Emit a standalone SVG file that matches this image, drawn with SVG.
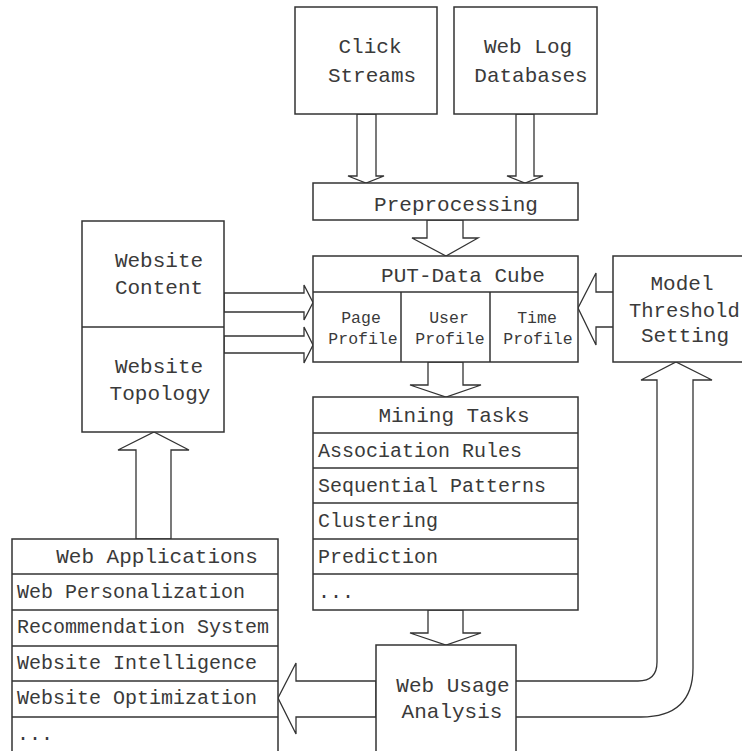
<svg xmlns="http://www.w3.org/2000/svg" width="742" height="751" viewBox="0 0 742 751">
  <style>
    .box { fill: #fff; stroke: #333; stroke-width: 1.5; }
    .ln { fill: none; stroke: #333; stroke-width: 1.5; }
    .arr { fill: #fff; stroke: #333; stroke-width: 1.3; stroke-linejoin: miter; }
    text { font-family: "Liberation Mono", "Courier New", monospace; fill: #3a3a3a; }
    .t { font-size: 21px; text-anchor: middle; }
    .li { font-size: 20px; }
    .s { font-size: 16.5px; text-anchor: middle; }
  </style>
  <rect width="742" height="751" fill="#fff"/>

  <!-- connectors (block arrows) -->
  <g id="connectors">
    <polygon class="arr" points="357,114 376,114 376,176 384,176 366,183 348,176 357,176"/>
    <polygon class="arr" points="516,114 534,114 534,176 543,176 525,183 507,176 516,176"/>
    <polygon class="arr" points="427,220 463,220 463,238 478,238 446,256 412,238 427,238"/>
    <polygon class="arr" points="428,362 463,362 463,385 481,385 446,397 410,385 428,385"/>
    <polygon class="arr" points="428,610 463,610 463,633 481,633 446,645 410,633 428,633"/>
    <polygon class="arr" points="614,292 596,292 596,273 578,308 596,345 596,327 614,327"/>
    <polygon class="arr" points="224,293 304,293 304,285 313,302.5 304,320 304,312 224,312"/>
    <polygon class="arr" points="224,336 304,336 304,327 313,345 304,363 304,353 224,353"/>
    <polygon class="arr" points="136,539 136,450 118,450 154,432 189,450 171,450 171,539"/>
    <polygon class="arr" points="376,681 296,681 296,663 278,698 296,734 296,717 376,717"/>
    <path class="arr" d="M516,681 L638,681 Q657,681 657,662 L657,380 L641,380 L676,362 L712,380 L693,380 L693,668 Q693,717 641,717 L516,717"/>
  </g>

  <g id="click-streams">
    <rect class="box" x="295" y="7" width="142" height="107"/>
    <text class="t" x="370" y="53">Click</text>
    <text class="t" x="372" y="82">Streams</text>
  </g>

  <g id="web-log-databases">
    <rect class="box" x="454" y="7" width="143" height="107"/>
    <text class="t" x="528" y="53">Web Log</text>
    <text class="t" x="531" y="82">Databases</text>
  </g>

  <g id="preprocessing">
    <rect class="box" x="313" y="183" width="265" height="37"/>
    <text class="t" x="456" y="211">Preprocessing</text>
  </g>

  <g id="put-data-cube">
    <rect class="box" x="313" y="256" width="265" height="106"/>
    <line class="ln" x1="313" y1="292" x2="578" y2="292"/>
    <line class="ln" x1="401" y1="292" x2="401" y2="362"/>
    <line class="ln" x1="490" y1="292" x2="490" y2="362"/>
    <text class="t" x="463" y="282">PUT-Data Cube</text>
    <text class="s" x="361" y="323">Page</text>
    <text class="s" x="363" y="344">Profile</text>
    <text class="s" x="449" y="323">User</text>
    <text class="s" x="450" y="344">Profile</text>
    <text class="s" x="537" y="323">Time</text>
    <text class="s" x="538" y="344">Profile</text>
  </g>

  <g id="model-threshold-setting">
    <rect class="box" x="613" y="256" width="150" height="106"/>
    <text class="t" x="682" y="290">Model</text>
    <text font-size="20.5" x="629" y="317">Threshold</text>
    <text class="t" x="685" y="342">Setting</text>
  </g>

  <g id="website">
    <rect class="box" x="82" y="221" width="142" height="211"/>
    <line class="ln" x1="82" y1="327" x2="224" y2="327"/>
    <text class="t" x="159" y="267">Website</text>
    <text class="t" x="159" y="294">Content</text>
    <text class="t" x="159" y="373">Website</text>
    <text class="t" x="160" y="400">Topology</text>
  </g>

  <g id="mining-tasks">
    <rect class="box" x="313" y="397" width="265" height="213"/>
    <line class="ln" x1="313" y1="433" x2="578" y2="433"/>
    <line class="ln" x1="313" y1="468" x2="578" y2="468"/>
    <line class="ln" x1="313" y1="503" x2="578" y2="503"/>
    <line class="ln" x1="313" y1="539" x2="578" y2="539"/>
    <line class="ln" x1="313" y1="574" x2="578" y2="574"/>
    <text class="t" x="454" y="422">Mining Tasks</text>
    <text class="li" x="318" y="457">Association Rules</text>
    <text class="li" x="318" y="492">Sequential Patterns</text>
    <text class="li" x="318" y="527">Clustering</text>
    <text class="li" x="318" y="563">Prediction</text>
    <text class="li" x="318" y="598">...</text>
  </g>

  <g id="web-applications">
    <rect class="box" x="12" y="539" width="266" height="230"/>
    <line class="ln" x1="12" y1="574" x2="278" y2="574"/>
    <line class="ln" x1="12" y1="610" x2="278" y2="610"/>
    <line class="ln" x1="12" y1="646" x2="278" y2="646"/>
    <line class="ln" x1="12" y1="681" x2="278" y2="681"/>
    <line class="ln" x1="12" y1="717" x2="278" y2="717"/>
    <text class="t" x="157" y="563">Web Applications</text>
    <text class="li" x="17" y="598">Web Personalization</text>
    <text class="li" x="17" y="633">Recommendation System</text>
    <text class="li" x="17" y="669">Website Intelligence</text>
    <text class="li" x="17" y="704">Website Optimization</text>
    <text class="li" x="17" y="740">...</text>
  </g>

  <g id="web-usage-analysis">
    <rect class="box" x="376" y="645" width="140" height="125"/>
    <text class="t" x="453" y="692">Web Usage</text>
    <text class="t" x="452" y="718">Analysis</text>
  </g>
</svg>
